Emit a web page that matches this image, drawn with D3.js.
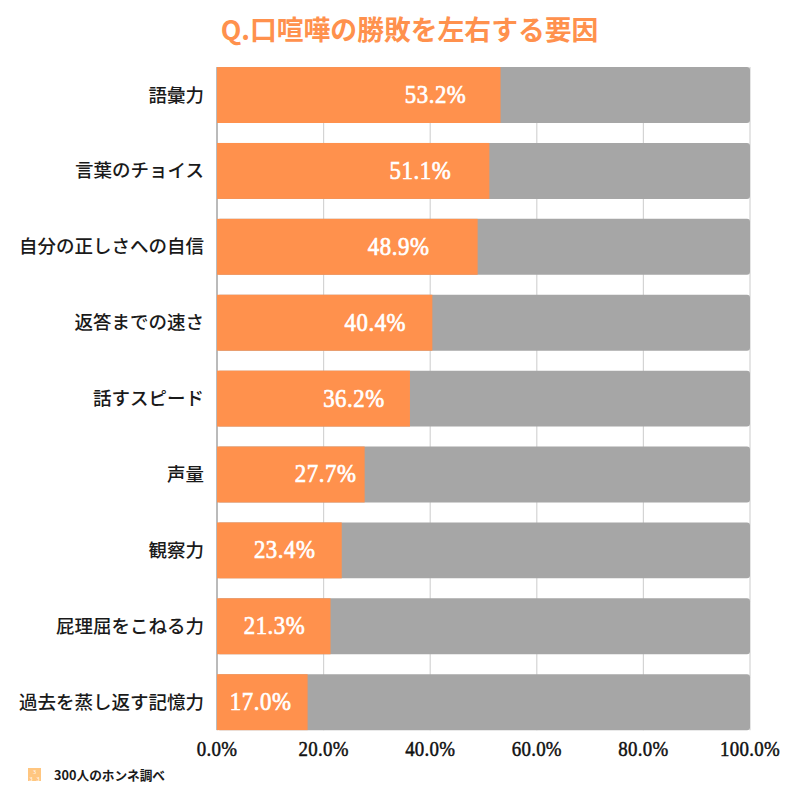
<!DOCTYPE html>
<html><head><meta charset="utf-8">
<script src="https://cdn.jsdelivr.net/npm/d3@7"></script>
<style>html,body{margin:0;padding:0;background:#fff}svg{display:block}</style></head>
<body><svg id="c" width="800" height="800"></svg>
<script>
const categories=["語彙力","言葉のチョイス","自分の正しさへの自信","返答までの速さ","話すスピード","声量","観察力","屁理屈をこねる力","過去を蒸し返す記憶力"];
const values=[53.2,51.1,48.9,40.4,36.2,27.7,23.4,21.3,17.0];
const labelShift=[-65,-69,-79,-57,-56,-39,-57,-56,-47];
const tickValues=[0,20,40,60,80,100];
const title="Q.口喧嘩の勝敗を左右する要因";
const source="300人のホンネ調べ";
const JP="'Noto Sans CJK JP','Noto Sans',sans-serif";
const NUM="'Liberation Serif','Noto Sans CJK JP',serif";
const orange="#ff914d",grey="#a6a6a6";
const svg=d3.select("#c");
const x=d3.scaleLinear().domain([0,100]).range([217,750]);
const y=d3.scaleBand().domain(categories).range([57.2,740]).paddingInner(0.263).paddingOuter(0.13);
const plotTop=y(categories[0]),plotBot=y(categories[8])+y.bandwidth();
svg.append("text").attr("x",409.5).attr("y",40).attr("text-anchor","middle")
 .attr("font-family",JP).attr("font-weight",700).attr("font-size",26.8).attr("fill",orange).text(title);
svg.selectAll("line.g").data(tickValues.slice(1)).join("line").attr("class","g")
 .attr("x1",d=>x(d)).attr("x2",d=>x(d)).attr("y1",plotTop).attr("y2",plotBot).attr("stroke","#d4d4d4").attr("stroke-width",1.2);
svg.append("line").attr("x1",217).attr("x2",217).attr("y1",plotTop).attr("y2",plotBot).attr("stroke","#777").attr("stroke-width",1);
svg.selectAll("rect.r").data(categories).join("rect").attr("class","r")
 .attr("x",x(0)).attr("y",c=>y(c)).attr("width",x(100)-x(0)).attr("height",y.bandwidth()).attr("rx",3).attr("fill",grey);
svg.selectAll("rect.o").data(values).join("rect").attr("class","o")
 .attr("x",x(0)).attr("y",(d,i)=>y(categories[i])).attr("width",d=>x(d)-x(0)).attr("height",y.bandwidth()).attr("fill",orange);
svg.selectAll("text.v").data(values).join("text").attr("class","v")
 .attr("transform",(d,i)=>`translate(${x(d)+labelShift[i]},${y(categories[i])+y.bandwidth()/2+8}) scale(.93,1)`)
 .attr("text-anchor","middle").attr("letter-spacing",0.6)
 .attr("font-family",NUM).attr("font-weight",400).attr("font-size",24.5).attr("fill","#fff").attr("stroke","#fff").attr("stroke-width",0.7).text(d=>d.toFixed(1)+"%");
svg.selectAll("text.c").data(categories).join("text").attr("class","c")
 .attr("x",204).attr("y",c=>y(c)+y.bandwidth()/2+6.5).attr("text-anchor","end")
 .attr("font-family",JP).attr("font-weight",500).attr("font-size",18.5).attr("fill","#1a1a1a").text(c=>c);
svg.selectAll("text.t").data(tickValues).join("text").attr("class","t")
 .attr("transform",d=>`translate(${x(d)},756) scale(.9,1)`).attr("text-anchor","middle").attr("letter-spacing",0.3)
 .attr("font-family",NUM).attr("font-weight",400).attr("font-size",21).attr("fill","#111").attr("stroke","#111").attr("stroke-width",0.5).text(d=>d.toFixed(1)+"%");
svg.append("rect").attr("x",28).attr("y",768).attr("width",13).attr("height",13).attr("fill","#ffc680");
svg.selectAll("text.s").data([[34.5,774],[31,780.5],[38,780.5]]).join("text").attr("class","s")
 .attr("x",d=>d[0]).attr("y",d=>d[1]).attr("text-anchor","middle").attr("font-family",NUM).attr("font-size",6).attr("fill","#fff").text("3");
svg.append("text").attr("x",54).attr("y",780).attr("font-family",JP).attr("font-weight",700).attr("font-size",12.7).attr("fill","#1a1a1a").text(source);
</script></body></html>
